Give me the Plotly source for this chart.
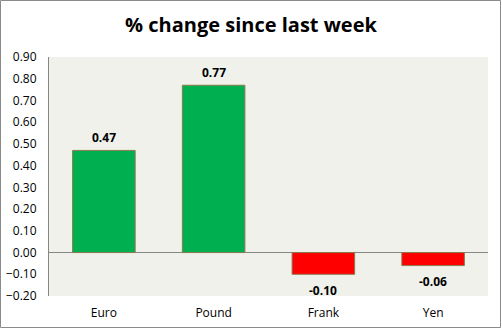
import plotly.graph_objects as go

categories = ["Euro", "Pound", "Frank", "Yen"]
values = [0.47, 0.77, -0.10, -0.06]
colors = ["#00B050" if v >= 0 else "#FF0000" for v in values]
labels = [f"{v:.2f}" for v in values]

W, H = 502, 329
L, R, T, B = 49, 14, 57, 33
pw, ph = W - L - R, H - T - B

fig = go.Figure(go.Bar(
    x=categories, y=values,
    marker=dict(color=colors, line=dict(color="#8C7A4E", width=1)),
    cliponaxis=False,
))

for c, v, t in zip(categories, values, labels):
    fig.add_annotation(x=c, y=v, text=f"<b>{t}</b>", showarrow=False,
                       yanchor="middle", yshift=13 if v >= 0 else -16,
                       font=dict(family="Open Sans", size=12, color="#000000"))

def px_x(p):
    return (p - L) / pw

def px_y(p):
    return 1 - (p - T) / ph

fig.add_shape(type="rect", xref="paper", yref="paper",
              x0=px_x(0.5), x1=px_x(W - 1.5), y0=px_y(H - 1.5), y1=px_y(0.5),
              line=dict(color="#8A8A8A", width=1), layer="below")

fig.update_layout(
    width=W, height=H,
    margin=dict(l=L, r=R, t=T, b=B, autoexpand=False),
    paper_bgcolor="white",
    plot_bgcolor="#EFF1EA",
    bargap=0.43,
    showlegend=False,
    title=dict(text="<b>% change since last week</b>", x=0.5, xref="container",
               y=1 - 25 / H, yanchor="middle",
               font=dict(family="Open Sans", size=20, color="#000000")),
    font=dict(family="Open Sans", size=12, color="#000000"),
    yaxis=dict(range=[-0.20, 0.90], dtick=0.10, tickformat=".2f", automargin=False,
               showgrid=False, zeroline=True, zerolinecolor="#868686", zerolinewidth=1,
               showline=True, linecolor="#868686", linewidth=1,
               ticks="outside", ticklen=9, tickcolor="rgba(0,0,0,0)",
               tickfont=dict(family="Open Sans", size=12)),
    xaxis=dict(showgrid=False, showline=False, ticks="outside", ticklen=6, automargin=False,
               tickcolor="rgba(0,0,0,0)",
               tickfont=dict(family="Open Sans", size=12)),
)

fig.write_html("out.html")
